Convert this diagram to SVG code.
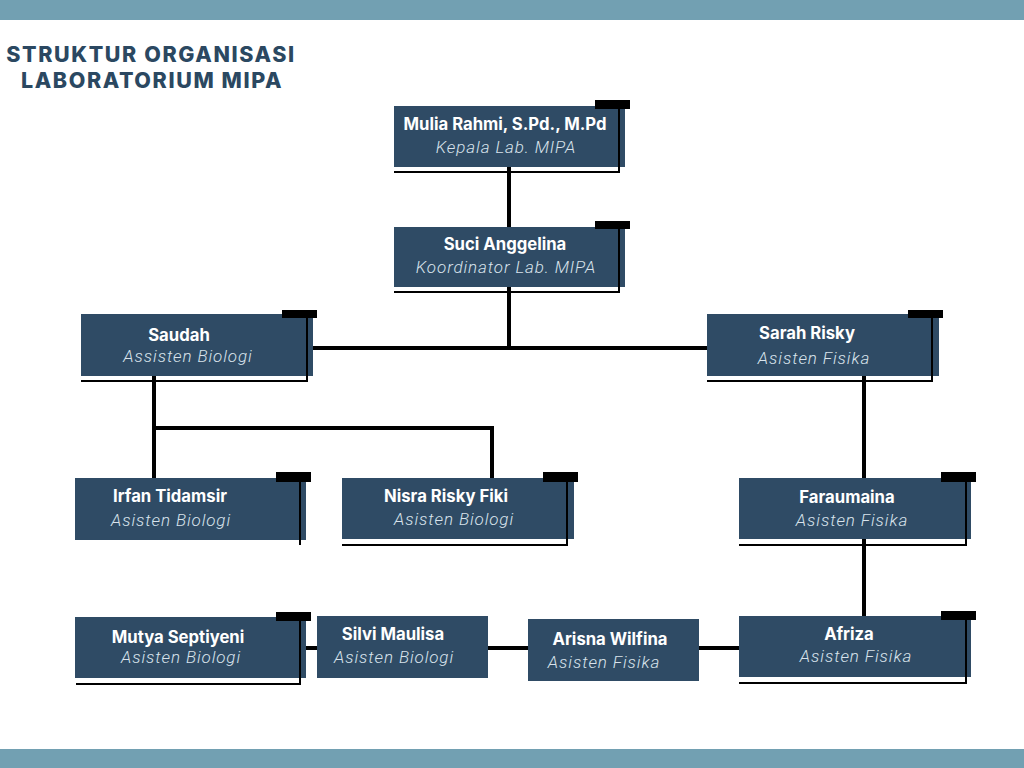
<svg xmlns="http://www.w3.org/2000/svg" width="1024" height="768" viewBox="0 0 1024 768">
<style>
.box{fill:#2f4b65}
.tab{fill:#000}
.ol{fill:none;stroke:#000;stroke-width:2}
.cn{fill:none;stroke:#000;stroke-width:4}
.nm{font-family:Inter,"Liberation Sans",sans-serif;font-weight:700;font-size:16.7px;fill:#ffffff;text-anchor:middle}
.rl{font-family:Roboto,"Liberation Sans",sans-serif;font-weight:300;font-style:italic;font-size:17px;letter-spacing:0.9px;fill:#d9e3ec;text-anchor:middle}
.tt{font-family:Inter,"Liberation Sans",sans-serif;font-weight:800;font-size:21.5px;letter-spacing:1.6px;fill:#2b4861;text-anchor:middle}
</style>
<rect x="0" y="0" width="1024" height="768" fill="#ffffff"/>
<rect x="0" y="0" width="1024" height="20" fill="#72a0b2"/>
<rect x="0" y="749" width="1024" height="19" fill="#72a0b2"/>
<g id="title">
<text class="tt" x="151" y="62">STRUKTUR ORGANISASI</text>
<text class="tt" x="152" y="88">LABORATORIUM MIPA</text>
</g>
<g id="connectors">
<line class="cn" x1="509" y1="167" x2="509" y2="227"/>
<line class="cn" x1="509" y1="287" x2="509" y2="348"/>
<line class="cn" x1="313" y1="348" x2="707" y2="348"/>
<line class="cn" x1="154" y1="376" x2="154" y2="478"/>
<path class="cn" d="M154,428 H492 V478"/>
<line class="cn" x1="864" y1="376" x2="864" y2="478"/>
<line class="cn" x1="864" y1="539" x2="864" y2="616"/>
<line class="cn" x1="306" y1="648" x2="317" y2="648"/>
<line class="cn" x1="488" y1="648" x2="528" y2="648"/>
<line class="cn" x1="699" y1="648" x2="739" y2="648"/>
</g>
<g id="mulia">
<rect class="box" x="394" y="106" width="231" height="61"/>
<polyline class="ol" points="394,172 619,172 619,105"/>
<rect class="tab" x="595" y="100" width="35" height="9"/>
<text class="nm" x="505" y="130">Mulia Rahmi, S.Pd., M.Pd</text>
<text class="rl" x="506" y="153">Kepala Lab. MIPA</text>
</g>
<g id="suci">
<rect class="box" x="394" y="227" width="231" height="60"/>
<polyline class="ol" points="394,292 619,292 619,225"/>
<rect class="tab" x="595" y="221" width="35" height="8"/>
<text class="nm" x="505" y="250">Suci Anggelina</text>
<text class="rl" x="506" y="273">Koordinator Lab. MIPA</text>
</g>
<g id="saudah">
<rect class="box" x="81" y="314" width="232" height="62"/>
<polyline class="ol" points="81,381 307,381 307,314"/>
<rect class="tab" x="282" y="310" width="35" height="8"/>
<text class="nm" x="179" y="341">Saudah</text>
<text class="rl" x="188" y="362">Assisten Biologi</text>
</g>
<g id="sarah">
<rect class="box" x="707" y="314" width="232" height="62"/>
<polyline class="ol" points="707,381 932,381 932,314"/>
<rect class="tab" x="908" y="310" width="35" height="8"/>
<text class="nm" x="807" y="339">Sarah Risky</text>
<text class="rl" x="814" y="364">Asisten Fisika</text>
</g>
<g id="irfan">
<rect class="box" x="75" y="478" width="231" height="62"/>
<polyline class="ol" points="300,545 300,478"/>
<rect class="tab" x="276" y="472" width="35" height="10"/>
<text class="nm" x="170" y="502">Irfan Tidamsir</text>
<text class="rl" x="171" y="526">Asisten Biologi</text>
</g>
<g id="nisra">
<rect class="box" x="342" y="478" width="232" height="61"/>
<polyline class="ol" points="342,545 567,545 567,478"/>
<rect class="tab" x="543" y="472" width="35" height="10"/>
<text class="nm" x="446" y="502">Nisra Risky Fiki</text>
<text class="rl" x="454" y="525">Asisten Biologi</text>
</g>
<g id="faraumaina">
<rect class="box" x="739" y="478" width="232" height="61"/>
<polyline class="ol" points="739,545 966,545 966,478"/>
<rect class="tab" x="941" y="472" width="35" height="10"/>
<text class="nm" x="847" y="503">Faraumaina</text>
<text class="rl" x="852" y="526">Asisten Fisika</text>
</g>
<g id="mutya">
<rect class="box" x="75" y="617" width="231" height="61"/>
<polyline class="ol" points="76,684 300,684 300,617"/>
<rect class="tab" x="276" y="612" width="35" height="9"/>
<text class="nm" x="178" y="643">Mutya Septiyeni</text>
<text class="rl" x="181" y="663">Asisten Biologi</text>
</g>
<g id="silvi">
<rect class="box" x="317" y="616" width="171" height="62"/>
<text class="nm" x="393" y="640">Silvi Maulisa</text>
<text class="rl" x="394" y="663">Asisten Biologi</text>
</g>
<g id="arisna">
<rect class="box" x="528" y="619" width="171" height="62"/>
<text class="nm" x="610" y="645">Arisna Wilfina</text>
<text class="rl" x="604" y="668">Asisten Fisika</text>
</g>
<g id="afriza">
<rect class="box" x="739" y="616" width="232" height="61"/>
<polyline class="ol" points="739,683 966,683 966,616"/>
<rect class="tab" x="941" y="611" width="35" height="9"/>
<text class="nm" x="849" y="640">Afriza</text>
<text class="rl" x="856" y="662">Asisten Fisika</text>
</g>
</svg>
